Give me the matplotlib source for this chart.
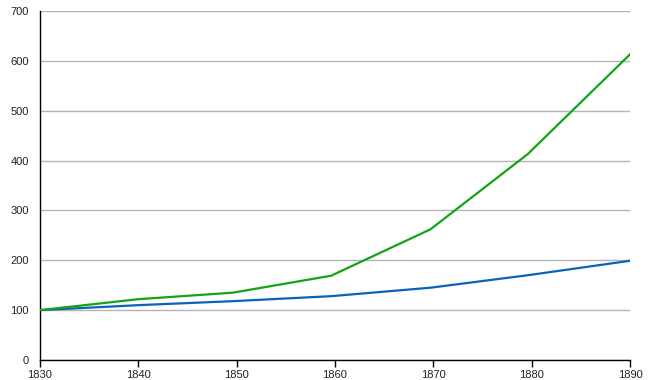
import matplotlib
matplotlib.use("Agg")
import matplotlib.pyplot as plt

# data
years = [1830, 1840, 1849.6, 1859.6, 1869.7, 1879.6, 1890]
green_vals = [100, 122, 135, 169, 262, 413, 613]
blue_vals = [100, 110, 118, 128, 145, 170, 199]
x_ticks = [1830, 1840, 1850, 1860, 1870, 1880, 1890]
y_ticks = [0, 100, 200, 300, 400, 500, 600, 700]

plt.rcParams['font.family'] = ['Liberation Sans', 'DejaVu Sans']

fig = plt.figure(figsize=(6.5, 3.8), dpi=100)
ax = fig.add_axes([40/650, 20/380, 590/650, 349/380])

ax.plot(years, blue_vals, color='#0a63b8', lw=1.6, zorder=3)
ax.plot(years, green_vals, color='#13a313', lw=1.6, zorder=4)

ax.set_xlim(1830, 1890)
ax.set_ylim(0, 700)
ax.set_xticks(x_ticks)
ax.set_yticks(y_ticks)
ax.grid(axis='y', color='#b4b4b4', lw=1)
ax.set_axisbelow(True)

for s in ['top', 'right']:
    ax.spines[s].set_visible(False)
for s in ['left', 'bottom']:
    ax.spines[s].set_color('black')
    ax.spines[s].set_linewidth(1)

ax.tick_params(axis='x', length=5, width=1, labelsize=8, pad=2, labelcolor='#222222')
ax.tick_params(axis='y', length=0, labelsize=8, pad=8, labelcolor='#222222')

fig.savefig('out.png', dpi=100)
